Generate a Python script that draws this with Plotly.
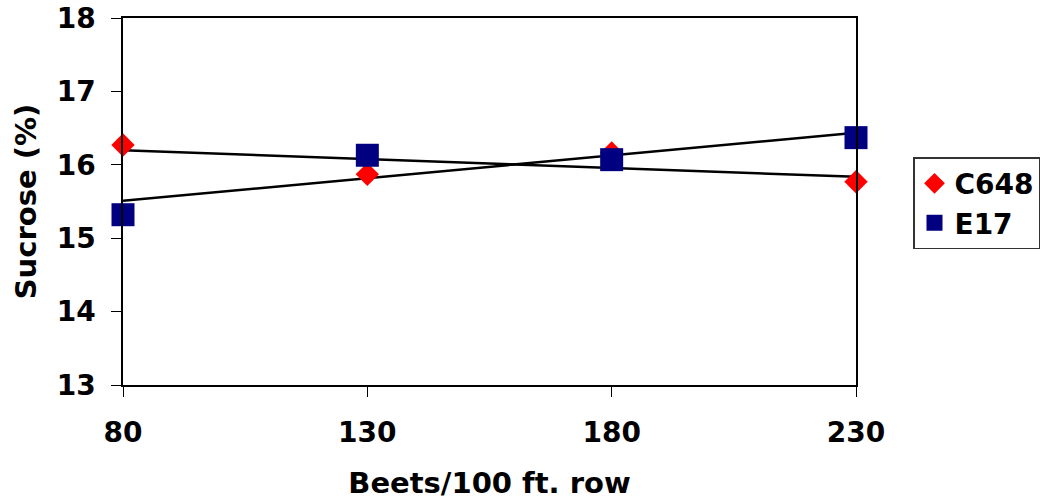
import numpy as np
import plotly.graph_objects as go

beets = [80, 130, 180, 230]
c648 = [16.27, 15.87, 16.16, 15.77]
e17 = [15.32, 16.13, 16.07, 16.37]
y_ticks = [13, 14, 15, 16, 17, 18]

FONT = "DejaVu Sans"

def trend(x, y):
    m, b = np.polyfit(x, y, 1)
    xs = np.array([min(x), max(x)])
    return xs, m * xs + b

fig = go.Figure()
for name, vals in [("C648", c648), ("E17", e17)]:
    tx, ty = trend(beets, vals)
    fig.add_trace(go.Scatter(x=tx, y=ty, mode="lines", showlegend=False, cliponaxis=False,
                             line=dict(color="black", width=2.5), hoverinfo="skip"))

fig.add_trace(go.Scatter(x=beets, y=c648, mode="markers", name="C648", cliponaxis=False,
                         marker=dict(symbol="diamond", size=18, color="#FF0000")))
fig.add_trace(go.Scatter(x=beets, y=e17, mode="markers", name="E17", cliponaxis=False,
                         marker=dict(symbol="square", size=23, color="#000080")))

L, R = 123, 0
W = 1040 - L - R
fig.update_layout(
    width=1040, height=500,
    margin=dict(l=L, r=R, t=18, b=115),
    plot_bgcolor="white", paper_bgcolor="white",
    font=dict(family=FONT, size=28, color="black"),
    xaxis=dict(domain=[0, (856 - L) / W],
               range=[80, 230], tickvals=beets, ticktext=[str(b) for b in beets],
               automargin=False,
               showgrid=False, zeroline=False, showline=True, linecolor="black", linewidth=1.5,
               mirror=True, ticks="outside", ticklen=10, tickcolor="black",
               ticklabelstandoff=12,
               tickfont=dict(family=FONT, size=28, weight="bold"),
               title=dict(text="<b>Beets/100 ft. row</b>", font=dict(size=29), standoff=24)),
    yaxis=dict(range=[13, 18], tickvals=y_ticks, showgrid=False, zeroline=False,
               automargin=False,
               showline=True, linecolor="black", linewidth=1.5, mirror=True,
               ticks="outside", ticklen=10, tickcolor="black",
               ticklabelstandoff=10,
               tickfont=dict(family=FONT, size=28, weight="bold"),
               title=dict(text="<b>Sucrose (%)</b>", font=dict(size=29), standoff=12)),
    legend=dict(x=(913 - L) / W, xanchor="left", y=0.621, yanchor="top",
                bordercolor="#333333", borderwidth=1.5,
                font=dict(family=FONT, size=28, weight="bold"),
                itemwidth=30, tracegroupgap=0),
    showlegend=True,
)

fig.write_html("out.html")
